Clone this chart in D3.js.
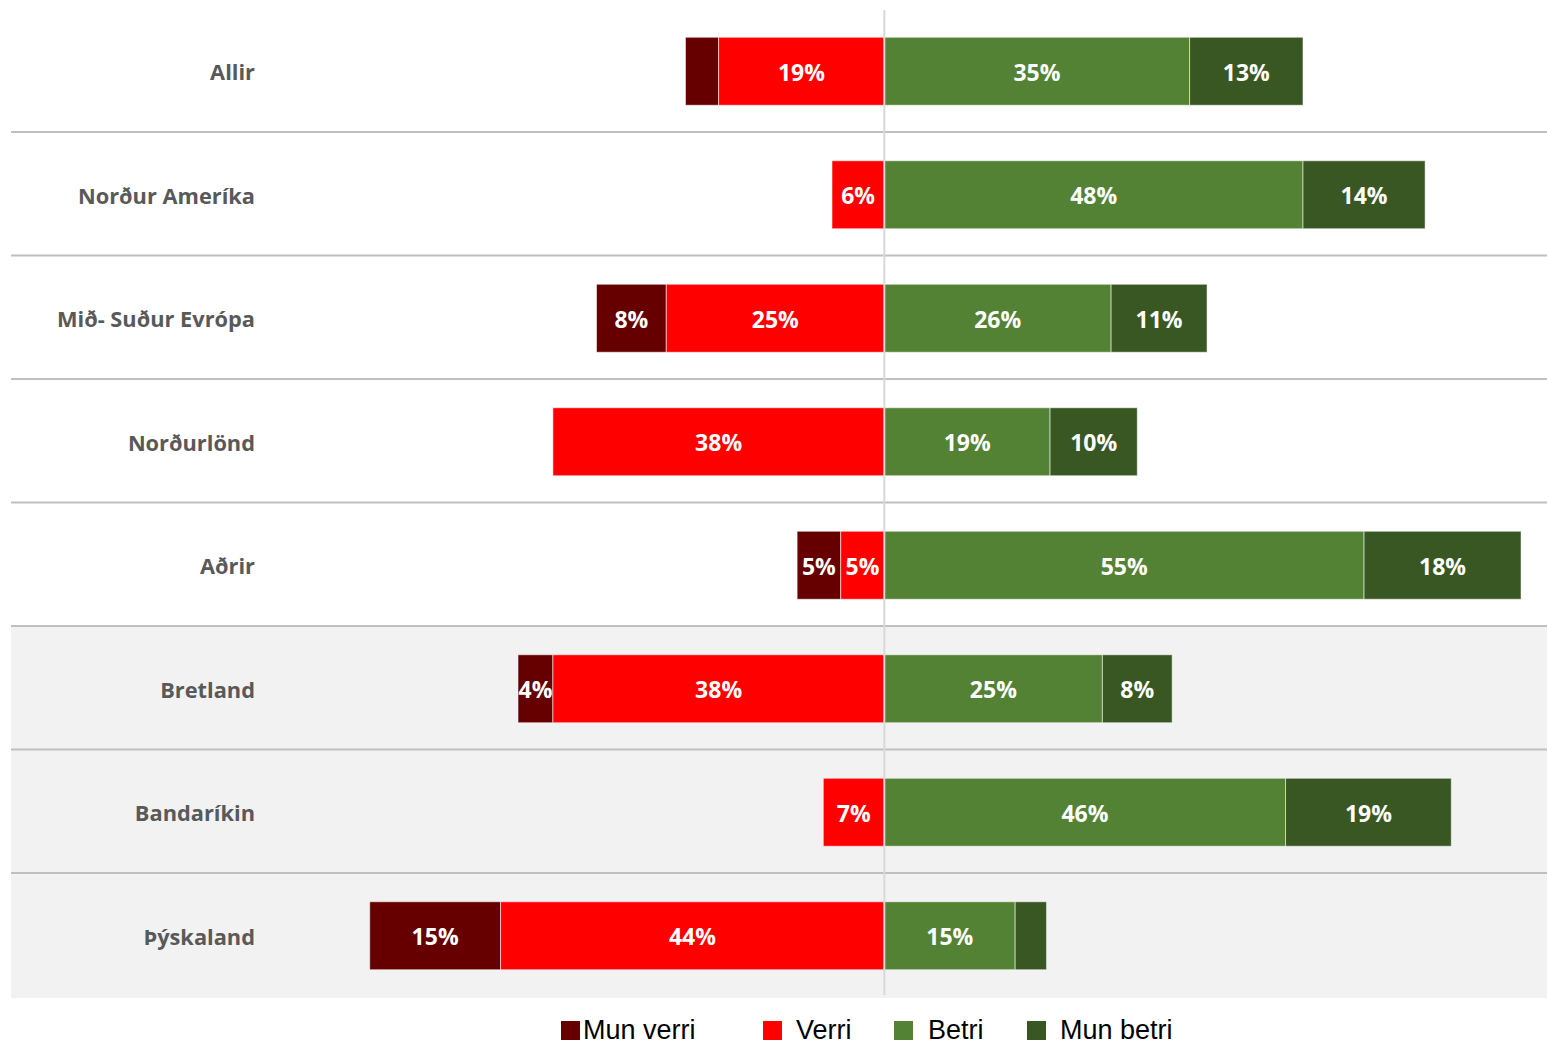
<!DOCTYPE html>
<html>
<head>
<meta charset="utf-8">
<script src="https://cdn.jsdelivr.net/npm/d3@7"></script>
<style>
  html, body { margin: 0; padding: 0; background: #ffffff; }
  svg { display: block; }
</style>
</head>
<body>
<svg id="chart" width="1547" height="1044"></svg>
<script>
// Regions (rows, top to bottom)
const categories = ["Allir", "Norður Ameríka", "Mið- Suður Evrópa", "Norðurlönd", "Aðrir", "Bretland", "Bandaríkin", "Þýskaland"];

// Share of answers per region, in percent
const munVerri = [3.8, 0, 8, 0, 5, 4, 0, 15];
const verri    = [19, 6, 25, 38, 5, 38, 7, 44];
const betri    = [35, 48, 26, 19, 55, 25, 46, 15];
const munBetri = [13, 14, 11, 10, 18, 8, 19, 3.6];

// Series names as shown in the legend
const seriesNames = ["Mun verri", "Verri", "Betri", "Mun betri"];
const seriesColors = ["#660000", "#ff0000", "#548235", "#385723"];

// Regions drawn on a shaded background
const shadedRows = ["Bretland", "Bandaríkin", "Þýskaland"];

const W = 1547, H = 1044;
const svg = d3.select("#chart");

const y = d3.scaleBand().domain(categories).range([8.5, 996.5]).paddingInner(0).paddingOuter(0);
const x = d3.scaleLinear().domain([-60, 75]).range([361, 1538.5]);
const color = d3.scaleOrdinal().domain(seriesNames).range(seriesColors);

const leftEdge = 11, rightEdge = W;
const barH = 68;

// shaded rows
svg.append("g").selectAll("rect")
  .data(shadedRows)
  .join("rect")
  .attr("x", leftEdge)
  .attr("y", d => y(d))
  .attr("width", rightEdge - leftEdge)
  .attr("height", y.bandwidth() + 1.5)
  .attr("fill", "#f2f2f2");

// separators between rows
svg.append("g").selectAll("line")
  .data(categories.slice(0, -1))
  .join("line")
  .attr("x1", leftEdge).attr("x2", rightEdge)
  .attr("y1", d => y(d) + y.bandwidth())
  .attr("y2", d => y(d) + y.bandwidth())
  .attr("stroke", "#bfbfbf")
  .attr("stroke-width", 2);

// stacked segments per region
const segments = [];
categories.forEach((c, i) => {
  const parts = [
    { s: "Mun verri", v: munVerri[i], x0: -(verri[i] + munVerri[i]), x1: -verri[i] },
    { s: "Verri",     v: verri[i],    x0: -verri[i], x1: 0 },
    { s: "Betri",     v: betri[i],    x0: 0, x1: betri[i] },
    { s: "Mun betri", v: munBetri[i], x0: betri[i], x1: betri[i] + munBetri[i] }
  ];
  parts.forEach(p => { if (p.v > 0) segments.push(Object.assign({ c }, p)); });
});

const barY = c => y(c) + (y.bandwidth() - barH) / 2 + 1;

svg.append("g").selectAll("rect")
  .data(segments)
  .join("rect")
  .attr("x", d => x(d.x0))
  .attr("y", d => barY(d.c))
  .attr("width", d => x(d.x1) - x(d.x0))
  .attr("height", barH)
  .attr("fill", d => color(d.s))
  .attr("stroke", "rgba(255,255,255,0.55)")
  .attr("stroke-width", 1);

// zero line
svg.append("line")
  .attr("x1", x(0)).attr("x2", x(0))
  .attr("y1", 10).attr("y2", 995)
  .attr("stroke", "#d9d9d9")
  .attr("stroke-width", 2);

// value labels (segments under 4% stay unlabelled)
svg.append("g").selectAll("text")
  .data(segments.filter(d => d.v >= 4))
  .join("text")
  .attr("x", d => (x(d.x0) + x(d.x1)) / 2)
  .attr("y", d => barY(d.c) + barH / 2 + 1)
  .attr("dy", "0.36em")
  .attr("text-anchor", "middle")
  .attr("font-family", "'Open Sans', sans-serif")
  .attr("font-weight", 700)
  .attr("font-size", 23)
  .attr("fill", "#ffffff")
  .text(d => Math.round(d.v) + "%");

// region labels
svg.append("g").selectAll("text")
  .data(categories)
  .join("text")
  .attr("x", 255)
  .attr("y", d => y(d) + y.bandwidth() / 2 + 2)
  .attr("dy", "0.36em")
  .attr("text-anchor", "end")
  .attr("font-family", "'Open Sans', sans-serif")
  .attr("font-weight", 700)
  .attr("font-size", 21.8)
  .attr("fill", "#595959")
  .text(d => d);

// legend
const legendX = [561, 763, 894, 1027];
const legendTextX = [583, 796, 928, 1060];
const legend = svg.append("g").selectAll("g")
  .data(seriesNames)
  .join("g");
legend.append("rect")
  .attr("x", (d, i) => legendX[i])
  .attr("y", 1021)
  .attr("width", 19)
  .attr("height", 19)
  .attr("fill", d => color(d));
legend.append("text")
  .attr("x", (d, i) => legendTextX[i])
  .attr("y", 1039)
  .attr("font-family", "'Liberation Sans', Arial, sans-serif")
  .attr("font-size", 27)
  .attr("fill", "#000000")
  .text(d => d);
</script>
</body>
</html>
